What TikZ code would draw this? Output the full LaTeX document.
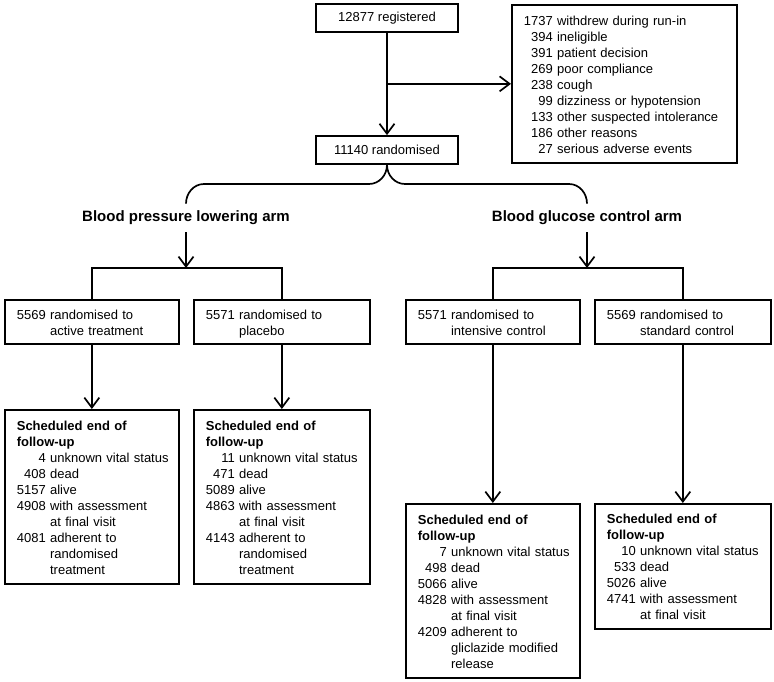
\documentclass[tikz,border=0pt]{standalone}
\usepackage{fontspec}
\setmainfont{Liberation Sans}
\usetikzlibrary{arrows.meta,calc}

\newcommand{\fuhead}{\multicolumn{2}{@{}l@{}}{\bfseries Scheduled end of}\\
  \multicolumn{2}{@{}l@{}}{\bfseries follow-up}\\}
\newcommand{\boxtext}[1]{\raisebox{-2pt}[\height][\depth]{\begin{tabular}{@{}r@{ }l@{}}#1\end{tabular}}}

\begin{document}
\begin{tikzpicture}[x=1pt,y=1pt,line width=1.7pt,>={Straight Barb[length=10pt,width=15pt]},
  font=\fontsize{13}{16}\selectfont,
  box/.style={draw,rectangle,inner xsep=12pt,inner ysep=6pt,anchor=north west,align=left},
  midbox/.style={draw,rectangle,minimum width=142pt,minimum height=28pt,inner sep=0pt},
  arm/.style={font=\fontsize{15}{18}\selectfont\bfseries,inner sep=0pt,minimum height=27pt}]

  \useasboundingbox (0,0) rectangle (774,-682);

  \node[midbox] (reg)  at (387,-18)  {12877 registered};
  \node[midbox] (rand) at (387,-150) {11140 randomised};
  \node[box,text width=201pt,minimum height=158pt] (wd) at (511,-4)
    {\boxtext{
      1737 & withdrew during run-in\\
      394 & ineligible\\
      391 & patient decision\\
      269 & poor compliance\\
      238 & cough\\
      99 & dizziness or hypotension\\
      133 & other suspected intolerance\\
      186 & other reasons\\
      27 & serious adverse events}};

  \node[arm] (bp) at (186,-218) {Blood pressure lowering arm};
  \node[arm] (gc) at (587,-218) {Blood glucose control arm};

  % randomised groups
  \node[box,text width=150pt,minimum height=44pt] (a1) at (4,-299)
    {\boxtext{5569 & randomised to\\ & active treatment}};
  \node[box,text width=152pt,minimum height=44pt] (a2) at (193,-299)
    {\boxtext{5571 & randomised to\\ & placebo}};
  \node[box,text width=150pt,minimum height=44pt] (b1) at (405,-299)
    {\boxtext{5571 & randomised to\\ & intensive control}};
  \node[box,text width=152pt,minimum height=44pt] (b2) at (594,-299)
    {\boxtext{5569 & randomised to\\ & standard control}};

  % follow-up
  \node[box,text width=150pt,minimum height=174pt] (f1) at (4,-409)
    {\boxtext{\fuhead
      4 & unknown vital status\\
      408 & dead\\
      5157 & alive\\
      4908 & with assessment\\
      & at final visit\\
      4081 & adherent to\\
      & randomised\\
      & treatment}};
  \node[box,text width=152pt,minimum height=174pt] (f2) at (193,-409)
    {\boxtext{\fuhead
      11 & unknown vital status\\
      471 & dead\\
      5089 & alive\\
      4863 & with assessment\\
      & at final visit\\
      4143 & adherent to\\
      & randomised\\
      & treatment}};
  \node[box,text width=150pt,minimum height=174pt] (f3) at (405,-503)
    {\boxtext{\fuhead
      7 & unknown vital status\\
      498 & dead\\
      5066 & alive\\
      4828 & with assessment\\
      & at final visit\\
      4209 & adherent to\\
      & gliclazide modified\\
      & release}};
  \node[box,text width=152pt,minimum height=125pt] (f4) at (594,-503)
    {\boxtext{\fuhead
      10 & unknown vital status\\
      533 & dead\\
      5026 & alive\\
      4741 & with assessment\\
      & at final visit}};

  \coordinate (bt)  at (rand.south |- 0,-184);
  \coordinate (bpj) at (bp.south |- 0,-268);
  \coordinate (gcj) at (gc.south |- 0,-268);

  % brace
  \draw (bp.north) to[out=90,in=180] ($(bp.north |- bt)+(18,0)$)
    -- ($(bt)+(-18,0)$) to[out=0,in=-90] (rand.south)
    to[out=-90,in=180] ($(bt)+(18,0)$)
    -- ($(gc.north |- bt)+(-18,0)$) to[out=0,in=90] (gc.north);

  \draw (a1.north) |- (bpj) -| (a2.north);
  \draw (b1.north) |- (gcj) -| (b2.north);

  \path[->]
     (reg)  edge (rand)
     (reg.south |- wd.west) edge (wd.west)
     (bp)   edge (bpj)
     (gc)   edge (gcj)
     (a1)   edge (f1)
     (a2)   edge (f2)
     (b1)   edge (f3)
     (b2)   edge (f4);

\end{tikzpicture}
\end{document}
